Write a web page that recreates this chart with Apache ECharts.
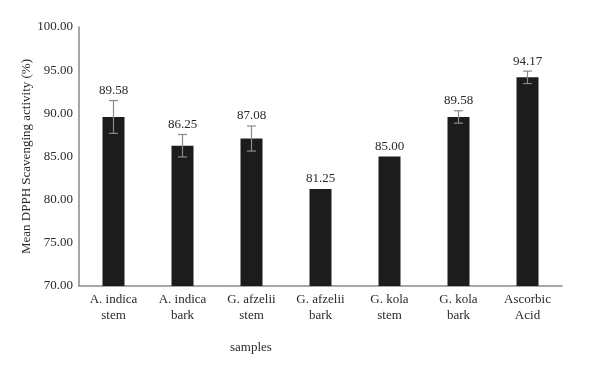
<!DOCTYPE html>
<html>
<head>
<meta charset="utf-8">
<script src="https://cdn.jsdelivr.net/npm/echarts@6/dist/echarts.min.js"></script>
<style>
  html, body { margin: 0; padding: 0; background: #fff; }
  #chart { width: 600px; height: 376px; }
</style>
</head>
<body>
<div id="chart"></div>
<script>
var categories = ['A. indica\nstem', 'A. indica\nbark', 'G. afzelii\nstem', 'G. afzelii\nbark', 'G. kola\nstem', 'G. kola\nbark', 'Ascorbic\nAcid'];
var scavenging = [89.58, 86.25, 87.08, 81.25, 85.00, 89.58, 94.17];
var errors = [1.9, 1.3, 1.45, 0, 0, 0.72, 0.72];

var font = '"Liberation Serif", "DejaVu Serif", serif';

var chart = echarts.init(document.getElementById('chart'));

var errData = scavenging.map(function (v, i) { return [i, v, errors[i]]; });

var option = {
  backgroundColor: '#fff',
  animation: false,
  grid: { left: 79, right: 38, top: 27, bottom: 90 },
  xAxis: {
    type: 'category',
    data: categories,
    axisLine: { lineStyle: { color: '#8a8a8a', width: 1.5 } },
    axisTick: { show: false },
    axisLabel: { color: '#2a2a2a', fontFamily: font, fontSize: 13, lineHeight: 16, margin: 6 }
  },
  yAxis: {
    type: 'value',
    min: 70,
    max: 100,
    interval: 5,
    name: 'Mean DPPH Scavenging activity (%)',
    nameLocation: 'middle',
    nameGap: 46,
    nameMoveOverlap: false,
    nameTextStyle: { color: '#2a2a2a', fontFamily: font, fontSize: 13 },
    axisLine: { show: true, lineStyle: { color: '#8a8a8a', width: 1.5 } },
    axisTick: { show: false },
    splitLine: { show: false },
    axisLabel: {
      color: '#2a2a2a', fontFamily: font, fontSize: 13, margin: 6,
      formatter: function (v) { return v.toFixed(2); }
    }
  },
  graphic: [{
    type: 'text',
    left: 230,
    top: 341,
    style: { text: 'samples', fill: '#2a2a2a', font: '13px ' + font }
  }],
  series: [
    {
      type: 'bar',
      data: scavenging,
      barWidth: 22,
      itemStyle: { color: '#1c1c1c' }
    },
    {
      type: 'custom',
      data: errData,
      encode: { x: 0, y: 1 },
      z: 10,
      renderItem: function (params, api) {
        var i = api.value(0), v = api.value(1), e = api.value(2);
        var top = api.coord([i, v + e]);
        var bot = api.coord([i, v - e]);
        var x = top[0];
        var children = [];
        var ls = { stroke: '#8a8a8a', lineWidth: 1.2 };
        if (e > 0) {
          children.push({ type: 'line', shape: { x1: x, y1: top[1], x2: x, y2: bot[1] }, style: ls });
          children.push({ type: 'line', shape: { x1: x - 4.5, y1: top[1], x2: x + 4.5, y2: top[1] }, style: ls });
          children.push({ type: 'line', shape: { x1: x - 4.5, y1: bot[1], x2: x + 4.5, y2: bot[1] }, style: ls });
        }
        children.push({
          type: 'text',
          x: x,
          y: top[1] - 10,
          style: {
            text: v.toFixed(2),
            fill: '#2a2a2a',
            font: '13px ' + font,
            align: 'center',
            verticalAlign: 'middle'
          }
        });
        return { type: 'group', children: children };
      }
    }
  ]
};

chart.setOption(option);
</script>
</body>
</html>
